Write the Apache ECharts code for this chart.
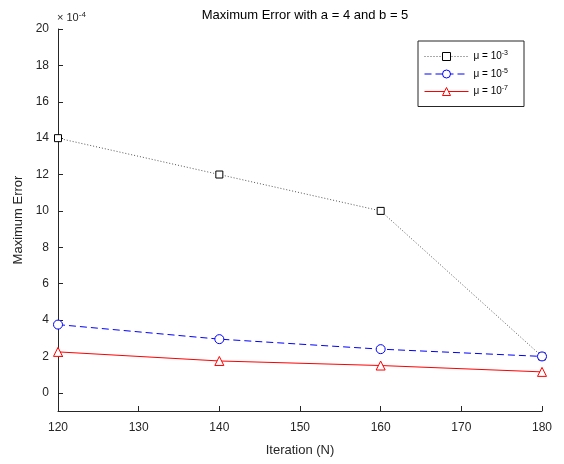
<!DOCTYPE html>
<html>
<head>
<meta charset="utf-8">
<script src="https://cdn.jsdelivr.net/npm/echarts@6/dist/echarts.min.js"></script>
<style>
  html, body { margin: 0; padding: 0; background: #fff; }
  #chart { width: 564px; height: 464px; }
</style>
</head>
<body>
<div id="chart"></div>
<script>
// Iteration counts along the x axis
const iterations = [120, 140, 160, 180];
// Maximum error, in units of 1e-4
const errMu3 = [14, 12, 10, 2.0];
const errMu5 = [3.75, 2.95, 2.4, 2.0];
const errMu7 = [2.25, 1.75, 1.5, 1.15];
// Tick labels
const yTicks = [0, 2, 4, 6, 8, 10, 12, 14, 16, 18, 20];
const xTicks = [120, 130, 140, 150, 160, 170, 180];
const seriesNames = ['mu3', 'mu5', 'mu7'];
const legendLabels = { mu3: '-3', mu5: '-5', mu7: '-7' };

const FONT = 'Liberation Sans, Arial, Helvetica, sans-serif';
const AXIS = '#262626';

// Per-series drawing style
const styles = {
  mu3: { color: '#555', marker: '#000', symbol: 'rect', size: 7, dash: [1, 2] },
  mu5: { color: '#0000ff', marker: '#0000ff', symbol: 'circle', size: 9, dash: [7, 4] },
  mu7: { color: '#ff0000', marker: '#ff0000', symbol: 'triangle', size: 9, dash: 'solid' }
};
const values = { mu3: errMu3, mu5: errMu5, mu7: errMu7 };

const pairs = ys => iterations.map((x, i) => [x, ys[i]]);

const chart = echarts.init(document.getElementById('chart'), null, { renderer: 'canvas' });
chart.setOption({
  backgroundColor: '#fff',
  animation: false,
  title: {
    text: 'Maximum Error with a = 4 and b = 5',
    left: 300, top: 4, textAlign: 'center',
    textStyle: { fontFamily: FONT, fontSize: 13, fontWeight: 'normal', color: '#000' }
  },
  grid: { left: 58, right: 22, top: 29, bottom: 53, containLabel: false },
  legend: {
    orient: 'vertical',
    left: 418, top: 41,
    padding: [9, 16, 10, 6],
    itemWidth: 44, itemHeight: 10, itemGap: 6,
    borderColor: AXIS, borderWidth: 1, backgroundColor: '#fff',
    data: seriesNames.map(n => ({
      name: n,
      lineStyle: { width: 1, color: styles[n].color, type: styles[n].dash },
      itemStyle: { color: '#fff', borderColor: styles[n].marker, borderWidth: 1 }
    })),
    formatter: name => '{b|μ = 10}{s|' + legendLabels[name] + '}',
    textStyle: {
      fontFamily: FONT, color: '#000',
      rich: {
        b: { fontFamily: FONT, fontSize: 10, color: '#000' },
        s: { fontFamily: FONT, fontSize: 7, color: '#000', padding: [0, 0, 6, 0] }
      }
    }
  },
  graphic: [{
    type: 'text', left: 57, top: 11,
    style: { rich: {
      b: { fontFamily: FONT, fontSize: 11, fill: '#262626' },
      s: { fontFamily: FONT, fontSize: 8, fill: '#262626', padding: [0, 0, 6, 0] }
    }, text: '{b|× 10}{s|-4}' }
  }],
  xAxis: {
    type: 'value', min: 120, max: 180, interval: 10,
    name: 'Iteration (N)', nameLocation: 'middle', nameGap: 33,
    nameTextStyle: { fontFamily: FONT, fontSize: 13, color: '#262626' },
    axisLine: { onZero: false, lineStyle: { color: AXIS, width: 1 } },
    axisTick: { inside: true, length: 5, lineStyle: { color: AXIS } },
    axisLabel: { fontFamily: FONT, fontSize: 12, color: '#262626', margin: 11,
      customValues: xTicks },
    splitLine: { show: false }
  },
  yAxis: {
    type: 'value', min: -1, max: 20,
    name: 'Maximum Error', nameLocation: 'middle', nameGap: 30,
    nameTextStyle: { fontFamily: FONT, fontSize: 13, color: '#262626' },
    axisLine: { show: true, onZero: false, lineStyle: { color: AXIS, width: 1 } },
    axisTick: { show: true, inside: true, length: 5, lineStyle: { color: AXIS }, customValues: yTicks },
    axisLabel: { fontFamily: FONT, fontSize: 12, color: '#262626', margin: 9, customValues: yTicks },
    splitLine: { show: false }
  },
  series: seriesNames.map(n => ({
    name: n, type: 'line', data: pairs(values[n]),
    symbol: styles[n].symbol, symbolSize: styles[n].size,
    itemStyle: { color: '#fff', borderColor: styles[n].marker, borderWidth: 1 },
    lineStyle: { color: styles[n].color, width: 1, type: styles[n].dash }
  }))
});
</script>
</body>
</html>
